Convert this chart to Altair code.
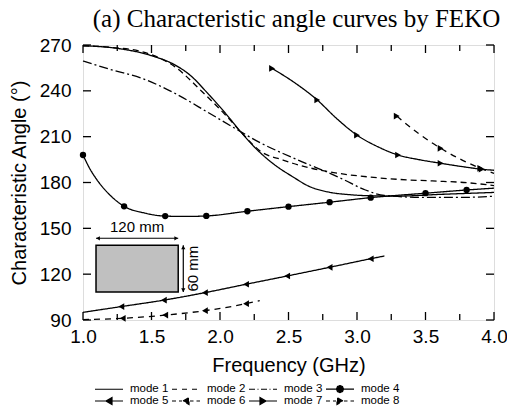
import altair as alt
import pandas as pd

MODES = ["mode 1", "mode 2", "mode 3", "mode 4", "mode 5", "mode 6", "mode 7", "mode 8"]

# ---- curve data (frequency GHz, characteristic angle deg) ----
m1_f = [1.0, 1.25, 1.5, 1.67, 1.78, 1.91, 2.04, 2.15, 2.26, 2.40, 2.53, 2.65, 2.8, 2.95, 3.1, 3.3, 3.6, 4.0]
m1_a = [269.5, 267.8, 263, 257, 250.4, 238.4, 225.3, 213.3, 202.4, 191.5, 183.8, 177.5, 173.6, 172, 171.3, 171.1, 172.2, 173.5]

m2_f = [1.0, 1.2, 1.43, 1.67, 1.87, 2.04, 2.15, 2.30, 2.46, 2.53, 2.83, 3.1, 3.31, 3.55, 3.80, 4.0]
m2_a = [269.5, 268.5, 265.6, 255.8, 239.4, 224.2, 213.3, 200.2, 194.7, 192.6, 186.5, 183.5, 182, 181, 179.9, 178]

m3_f = [1.0, 1.2, 1.43, 1.67, 1.91, 2.15, 2.30, 2.46, 2.6, 2.75, 2.9, 3.05, 3.2, 3.5, 3.8, 4.0]
m3_a = [259.5, 254, 248.2, 238.4, 226, 213.3, 205.7, 199, 193.5, 188, 182, 175.5, 171.5, 170.2, 170.3, 171]

m4_f = [1.0, 1.05, 1.1, 1.2, 1.3, 1.45, 1.6, 1.75, 1.9, 2.2, 2.5, 2.8, 3.1, 3.5, 3.8, 4.0]
m4_a = [198, 189, 182, 171.5, 164.4, 160, 158, 157.8, 158.1, 161.2, 164.2, 167.1, 170.1, 173, 175.1, 176.3]
m4_mark_f = [1.0, 1.3, 1.6, 1.9, 2.2, 2.5, 2.8, 3.1, 3.5, 3.8]
m4_mark_a = [198, 164.4, 158, 158.1, 161.2, 164.2, 167.1, 170.1, 173, 175.1]

m5_f = [1.0, 1.28, 1.59, 1.89, 2.19, 2.49, 2.80, 3.10, 3.20]
m5_a = [95, 98.8, 103, 107.9, 113.4, 118.8, 124.5, 130.1, 131.9]
m5_mark_f = [1.28, 1.59, 1.89, 2.19, 2.49, 2.80, 3.10]
m5_mark_a = [98.8, 103, 107.9, 113.4, 118.8, 124.5, 130.1]

m6_f = [1.0, 1.29, 1.6, 1.89, 2.19, 2.29]
m6_a = [90.3, 91.1, 93.2, 96.1, 100.7, 102.7]
m6_mark_f = [1.29, 1.6, 1.89, 2.19]
m6_mark_a = [91.1, 93.2, 96.1, 100.7]

m7_f = [2.38, 2.55, 2.71, 2.85, 3.0, 3.15, 3.30, 3.45, 3.61, 3.76, 3.91, 4.0]
m7_a = [254.7, 245, 234, 222, 211, 203.5, 198, 195, 192.6, 190.5, 188.7, 188]
m7_mark_f = [2.38, 2.71, 3.0, 3.30, 3.61, 3.91]
m7_mark_a = [254.7, 234, 211, 198, 192.6, 188.7]

m8_f = [3.29, 3.45, 3.61, 3.75, 3.90, 4.0]
m8_a = [223.5, 212, 202.4, 195.5, 189.3, 186]
m8_mark_f = [3.29, 3.61, 3.90]
m8_mark_a = [223.5, 202.4, 189.3]

# ---- axis ticks ----
x_labels = [1.0, 1.5, 2.0, 2.5, 3.0, 3.5, 4.0]
x_minor = [1.25, 1.75, 2.25, 2.75, 3.25, 3.75]
y_labels = [90, 120, 150, 180, 210, 240, 270]

# ---- inset (plate sketch) ----
box_f = [1.095, 1.695]
box_a = [108.3, 138.9]
width_arrow_a = 143.5
height_arrow_f = 1.732
width_label = "120 mm"
height_label = "60 mm"

# ---- build tables ----
lines = []
for m, fs, as_ in zip(MODES, [m1_f, m2_f, m3_f, m4_f, m5_f, m6_f, m7_f, m8_f],
                      [m1_a, m2_a, m3_a, m4_a, m5_a, m6_a, m7_a, m8_a]):
    for i, (f, a) in enumerate(zip(fs, as_)):
        lines.append({"mode": m, "f": f, "a": a, "i": i})
lines_df = pd.DataFrame(lines)

marks = []
for m, shp, fs, as_ in [("mode 4", "circle", m4_mark_f, m4_mark_a),
                        ("mode 5", "left", m5_mark_f, m5_mark_a),
                        ("mode 6", "left", m6_mark_f, m6_mark_a),
                        ("mode 7", "right", m7_mark_f, m7_mark_a),
                        ("mode 8", "right", m8_mark_f, m8_mark_a)]:
    for f, a in zip(fs, as_):
        marks.append({"mode": m, "kind": shp, "f": f, "a": a})
marks_df = pd.DataFrame(marks)

W, H = 411, 275
xs = alt.Scale(domain=[1.0, 4.0], nice=False, zero=False, padding=0)
ys = alt.Scale(domain=[90, 270], nice=False, zero=False, padding=0)
AX_FONT = "Liberation Sans"
x_axis = alt.Axis(values=x_labels, format=".1f", title="Frequency (GHz)", grid=False,
                  domain=False, ticks=False, labelFont=AX_FONT, labelFontSize=19,
                  labelColor="black", labelPadding=7, labelFlush=False, titleFont=AX_FONT,
                  titleFontSize=20, titleFontWeight="normal", titleColor="black", titlePadding=9)
y_axis = alt.Axis(values=y_labels, title="Characteristic Angle (°)", grid=False,
                  domain=False, ticks=False, labelFont=AX_FONT, labelFontSize=19,
                  labelColor="black", labelPadding=12, labelFlush=False, titleFont=AX_FONT,
                  titleFontSize=20, titleFontWeight="normal", titleColor="black", titlePadding=10)
X = alt.X("f:Q", scale=xs, axis=x_axis)
Y = alt.Y("a:Q", scale=ys, axis=y_axis)

DASHES = [[1, 0], [6, 4], [9, 3, 2, 3], [1, 0], [1, 0], [6, 5], [1, 0], [6, 5]]

line_layer = alt.Chart(lines_df).mark_line(color="black", strokeWidth=1.3,
                                           interpolate="monotone").encode(
    x=X, y=Y,
    strokeDash=alt.StrokeDash("mode:N", scale=alt.Scale(domain=MODES, range=DASHES), legend=None),
    detail="mode:N", order="i:Q")

circ = alt.Chart(marks_df).transform_filter(alt.datum.kind == "circle").mark_point(
    shape="circle", filled=True, color="black", size=40, opacity=1).encode(x=X, y=Y)
left = alt.Chart(marks_df).transform_filter(alt.datum.kind == "left").mark_point(
    shape="triangle-left", filled=True, color="black", size=45, opacity=1).encode(x=X, y=Y)
right = alt.Chart(marks_df).transform_filter(alt.datum.kind == "right").mark_point(
    shape="triangle-right", filled=True, color="black", size=45, opacity=1).encode(x=X, y=Y)

# legend symbols: line + marker, drawn as custom paths (1 unit = 5 px)
L = "M-2,0H3.6"
DASH = "M-2,0H-1M0,0H1M2,0H3"
DASHDOT = "M-2,0H-0.8M-0.3,0H-0.1M0.4,0H1.6M2.1,0H2.3M2.8,0H3.6"
DASH_T = "M-2,0H-1.2M-0.6,0H0M1.6,0H2.3M2.9,0H3.6"
CIRC = "M1.5,0L1.3,0.5L0.8,0.7L0.3,0.5L0.1,0L0.3,-0.5L0.8,-0.7L1.3,-0.5Z"
TL = "M0.2,0L1.4,-0.7L1.4,0.7Z"
TR = "M1.4,0L0.2,-0.7L0.2,0.7Z"
PATHS = [L, DASH, DASHDOT, L + CIRC, L + TL, DASH_T + TL, L + TR, DASH_T + TR]

LEG = alt.Legend(title=None, orient="bottom", direction="horizontal",
                 columns=4, columnPadding=0, rowPadding=-6, offset=-8,
                 symbolSize=100, symbolStrokeWidth=1.2,
                 symbolStrokeColor="black", symbolFillColor="black",
                 symbolOpacity=1, labelFont=AX_FONT, labelFontSize=11.5,
                 labelColor="black", labelOffset=19, padding=16)

legend_layer = alt.Chart(lines_df).mark_point(
    filled=True, fill="black", strokeWidth=1.2, opacity=0.001).encode(
    x=X, y=Y,
    shape=alt.Shape("mode:N", scale=alt.Scale(domain=MODES, range=PATHS), legend=LEG),
    stroke=alt.Stroke("mode:N", scale=alt.Scale(domain=MODES, range=["black"] * 8), legend=LEG))

# inset
box_df = pd.DataFrame({"f": [box_f[0]], "f2": [box_f[1]], "a": [box_a[0]], "a2": [box_a[1]]})
box = alt.Chart(box_df).mark_rect(fill="#c0c0c0", stroke="black", strokeWidth=1.5).encode(
    x=X, x2="f2:Q", y=Y, y2="a2:Q")
warrow_df = pd.DataFrame({"f": [box_f[0]], "f2": [box_f[1]], "a": [width_arrow_a]})
warrow = alt.Chart(warrow_df).mark_rule(color="black", strokeWidth=1.2).encode(x=X, x2="f2:Q", y=Y)
harrow_df = pd.DataFrame({"f": [height_arrow_f], "a": [box_a[0]], "a2": [box_a[1]]})
harrow = alt.Chart(harrow_df).mark_rule(color="black", strokeWidth=1.2).encode(x=X, y=Y, y2="a2:Q")


def head(f, a, shape, dx=0, dy=0):
    return alt.Chart(pd.DataFrame({"f": [f], "a": [a]})).mark_point(
        shape=shape, filled=True, color="black", size=18, opacity=1, xOffset=dx, yOffset=dy
    ).encode(x=X, y=Y)


heads = [head(box_f[0], width_arrow_a, "triangle-left", dx=2),
         head(box_f[1], width_arrow_a, "triangle-right", dx=-2),
         head(height_arrow_f, box_a[1], "triangle-up", dy=2),
         head(height_arrow_f, box_a[0], "triangle-down", dy=-2)]
wlab = alt.Chart(pd.DataFrame({"f": [(box_f[0] + box_f[1]) / 2], "a": [width_arrow_a], "t": [width_label]})).mark_text(
    font=AX_FONT, fontSize=15, color="black", baseline="bottom", dy=-3).encode(x=X, y=Y, text="t:N")
hlab = alt.Chart(pd.DataFrame({"f": [height_arrow_f], "a": [(box_a[0] + box_a[1]) / 2], "t": [height_label]})).mark_text(
    font=AX_FONT, fontSize=15, color="black", angle=270, baseline="top", dy=3).encode(x=X, y=Y, text="t:N")

# inward ticks on all four sides
xmaj_df = pd.DataFrame({"f": x_labels})
xmin_df = pd.DataFrame({"f": x_minor})
ymaj_df = pd.DataFrame({"a": y_labels})
tk = dict(color="black", strokeWidth=1.3)
t_bot = alt.Chart(xmaj_df).mark_rule(**tk).encode(x=X, y=alt.value(H), y2=alt.value(H - 8))
t_top = alt.Chart(xmaj_df).mark_rule(**tk).encode(x=X, y=alt.value(0), y2=alt.value(8))
t_bot2 = alt.Chart(xmin_df).mark_rule(**tk).encode(x=X, y=alt.value(H), y2=alt.value(H - 6))
t_top2 = alt.Chart(xmin_df).mark_rule(**tk).encode(x=X, y=alt.value(0), y2=alt.value(6))
t_left = alt.Chart(ymaj_df).mark_rule(**tk).encode(y=Y, x=alt.value(0), x2=alt.value(8))
t_right = alt.Chart(ymaj_df).mark_rule(**tk).encode(y=Y, x=alt.value(W), x2=alt.value(W - 8))

chart = alt.layer(
    legend_layer, box, warrow, harrow, *heads, wlab, hlab,
    line_layer, circ, left, right,
    t_bot, t_top, t_bot2, t_top2, t_left, t_right,
).properties(
    width=W, height=H,
    padding={"left": 83, "top": 45, "right": 13, "bottom": 97},
    autosize=alt.AutoSizeParams(type="none"),
    title=alt.TitleParams("(a) Characteristic angle curves by FEKO", font="Liberation Serif",
                          fontSize=25, fontWeight="normal", color="black", anchor="middle",
                          frame="group", dx=8, offset=4),
).configure_view(stroke="black", strokeWidth=1.6).configure(background="white")

chart.save("out.html", embed_options={"renderer": "svg", "actions": False})
